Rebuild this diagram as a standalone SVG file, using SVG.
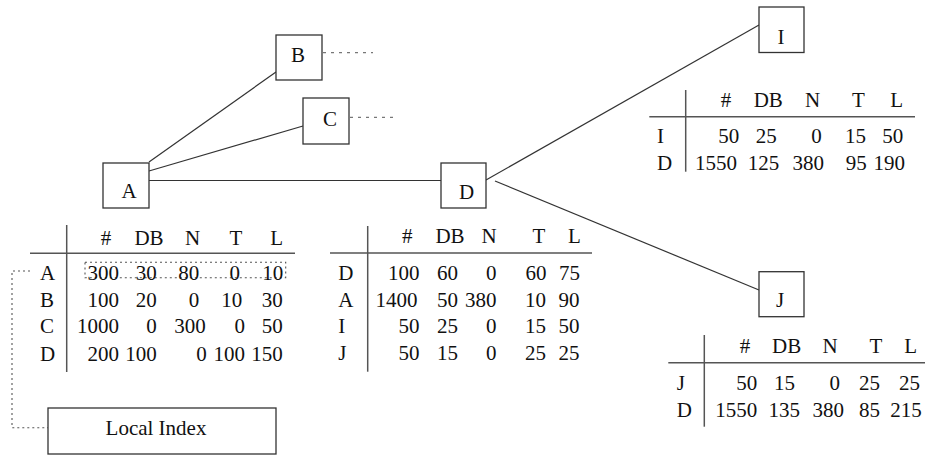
<svg xmlns="http://www.w3.org/2000/svg" width="925" height="455" viewBox="0 0 925 455">
<style>
text{font-family:"Liberation Serif","Times New Roman",serif;font-size:21px;fill:#111}
.box{fill:#fff;stroke:#333;stroke-width:1.3}
.edge{stroke:#333;stroke-width:1.2;fill:none}
.dot{stroke:#777;stroke-width:1.3;stroke-dasharray:3 5;fill:none}
.dot2{stroke:#555;stroke-width:1.1;stroke-dasharray:2 3;fill:none}
.rule{stroke:#555;stroke-width:1.5;fill:none}
.m{text-anchor:middle}
.e{text-anchor:end}
</style>
<rect width="925" height="455" fill="#fff"/>
<g id="connectors">
<line class="edge" x1="149" y1="162" x2="276" y2="72"/>
<line class="edge" x1="149" y1="171" x2="303" y2="126"/>
<line class="edge" x1="149" y1="180.5" x2="441" y2="180.5"/>
<line class="edge" x1="486" y1="180" x2="759" y2="25"/>
<line class="edge" x1="495" y1="181" x2="759" y2="290"/>
<line class="dot" x1="323" y1="52.7" x2="373" y2="52.7"/>
<line class="dot" x1="350" y1="117.3" x2="393" y2="117.3"/>
<polyline class="dot2" points="30,271 12,271 12,427.7 48,427.7"/>
</g>
<g id="node-A"><rect class="box" x="103" y="163" width="46" height="45"/><text class="m" x="129" y="198.3">A</text></g>
<g id="node-B"><rect class="box" x="276" y="35" width="46" height="45"/><text class="m" x="298" y="61.7">B</text></g>
<g id="node-C"><rect class="box" x="303" y="98" width="46" height="46"/><text class="m" x="330" y="126">C</text></g>
<g id="node-D"><rect class="box" x="441" y="163" width="45" height="45"/><text class="m" x="466.5" y="199.3">D</text></g>
<g id="node-I"><rect class="box" x="759" y="7" width="45" height="45.5"/><text class="m" x="781" y="44">I</text></g>
<g id="node-J"><rect class="box" x="759" y="271.7" width="45" height="45"/><text class="m" x="780" y="306.7">J</text></g>
<g id="node-local-index"><rect class="box" x="48" y="408" width="228" height="46"/><text class="m" x="156" y="435">Local Index</text></g>
<g id="table-A">
<line class="rule" x1="66.7" y1="225" x2="66.7" y2="372"/>
<line class="rule" x1="30" y1="253.3" x2="295" y2="253.3"/>
<text class="m" x="106" y="245">#</text><text class="m" x="149" y="245">DB</text><text class="m" x="192.7" y="245">N</text><text class="m" x="236" y="245">T</text><text class="m" x="276.7" y="245">L</text>
<rect class="dot2" x="85" y="262.3" width="200.7" height="15.4"/>
<text x="40" y="280">A</text><text class="e" x="119" y="280">300</text><text class="e" x="156.7" y="280">30</text><text class="e" x="199.3" y="280">80</text><text class="e" x="240" y="280">0</text><text class="e" x="283.3" y="280">10</text>
<text x="40" y="306.7">B</text><text class="e" x="119" y="306.7">100</text><text class="e" x="156.7" y="306.7">20</text><text class="e" x="199.3" y="306.7">0</text><text class="e" x="242.3" y="306.7">10</text><text class="e" x="282.7" y="306.7">30</text>
<text x="40" y="333.3">C</text><text class="e" x="119" y="333.3">1000</text><text class="e" x="156.7" y="333.3">0</text><text class="e" x="205.7" y="333.3">300</text><text class="e" x="245" y="333.3">0</text><text class="e" x="282.7" y="333.3">50</text>
<text x="40" y="360.7">D</text><text class="e" x="119" y="360.7">200</text><text class="e" x="156.7" y="360.7">100</text><text class="e" x="206.7" y="360.7">0</text><text class="e" x="245" y="360.7">100</text><text class="e" x="282.7" y="360.7">150</text>
</g>
<g id="table-D">
<line class="rule" x1="367.7" y1="226" x2="367.7" y2="371.7"/>
<line class="rule" x1="330" y1="253" x2="592" y2="253"/>
<text class="m" x="407.3" y="243.3">#</text><text class="m" x="450" y="243.3">DB</text><text class="m" x="489" y="243.3">N</text><text class="m" x="539" y="243.3">T</text><text class="m" x="574.3" y="243.3">L</text>
<text x="338.3" y="280">D</text><text class="e" x="419.5" y="280">100</text><text class="e" x="458" y="280">60</text><text class="e" x="496.5" y="280">0</text><text class="e" x="546.5" y="280">60</text><text class="e" x="580" y="280">75</text>
<text x="338.3" y="306.7">A</text><text class="e" x="417.5" y="306.7">1400</text><text class="e" x="458" y="306.7">50</text><text class="e" x="496.5" y="306.7">380</text><text class="e" x="546" y="306.7">10</text><text class="e" x="579.5" y="306.7">90</text>
<text x="338.3" y="333.3">I</text><text class="e" x="419.5" y="333.3">50</text><text class="e" x="458" y="333.3">25</text><text class="e" x="496.5" y="333.3">0</text><text class="e" x="546" y="333.3">15</text><text class="e" x="579.5" y="333.3">50</text>
<text x="338.3" y="360">J</text><text class="e" x="419.5" y="360">50</text><text class="e" x="458" y="360">15</text><text class="e" x="496.5" y="360">0</text><text class="e" x="546" y="360">25</text><text class="e" x="579.5" y="360">25</text>
</g>
<g id="table-I">
<line class="rule" x1="685.7" y1="90" x2="685.7" y2="171.7"/>
<line class="rule" x1="649.3" y1="116.7" x2="915" y2="116.7"/>
<text class="m" x="726" y="106.7">#</text><text class="m" x="768.3" y="106.7">DB</text><text class="m" x="812.7" y="106.7">N</text><text class="m" x="858.3" y="106.7">T</text><text class="m" x="896.7" y="106.7">L</text>
<text x="657" y="143.3">I</text><text class="e" x="739.3" y="143.3">50</text><text class="e" x="776.7" y="143.3">25</text><text class="e" x="821.7" y="143.3">0</text><text class="e" x="866" y="143.3">15</text><text class="e" x="903.3" y="143.3">50</text>
<text x="657" y="170">D</text><text class="e" x="737" y="170">1550</text><text class="e" x="779.3" y="170">125</text><text class="e" x="824" y="170">380</text><text class="e" x="866.7" y="170">95</text><text class="e" x="905" y="170">190</text>
</g>
<g id="table-J">
<line class="rule" x1="704.3" y1="335" x2="704.3" y2="426.7"/>
<line class="rule" x1="668.3" y1="362.7" x2="925" y2="362.7"/>
<text class="m" x="745" y="353.3">#</text><text class="m" x="786.7" y="353.3">DB</text><text class="m" x="830" y="353.3">N</text><text class="m" x="876" y="353.3">T</text><text class="m" x="910.7" y="353.3">L</text>
<text x="676.7" y="390">J</text><text class="e" x="757.3" y="390">50</text><text class="e" x="795" y="390">15</text><text class="e" x="840" y="390">0</text><text class="e" x="880" y="390">25</text><text class="e" x="920" y="390">25</text>
<text x="676.7" y="416.7">D</text><text class="e" x="757.3" y="416.7">1550</text><text class="e" x="800" y="416.7">135</text><text class="e" x="844" y="416.7">380</text><text class="e" x="880" y="416.7">85</text><text class="e" x="921.7" y="416.7">215</text>
</g>
</svg>
